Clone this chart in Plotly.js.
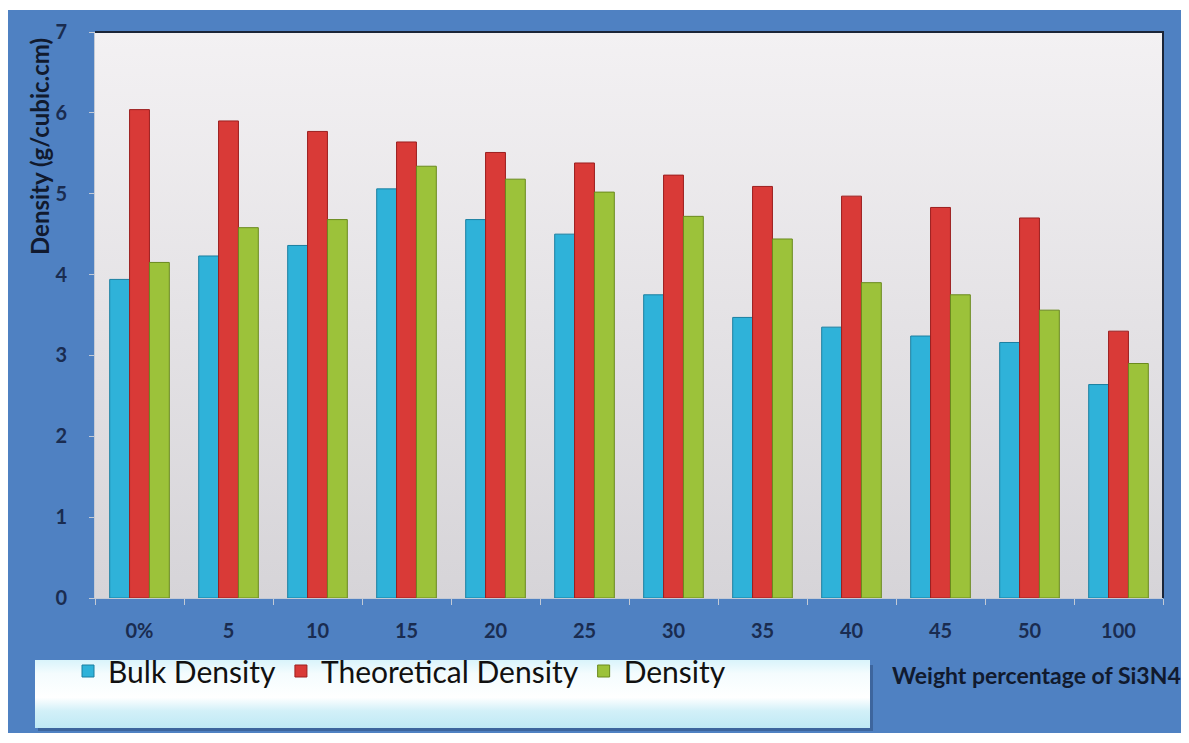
<!DOCTYPE html>
<html><head><meta charset="utf-8">
<script src="https://cdn.plot.ly/plotly-3.0.1.min.js"></script>
<style>html,body{margin:0;padding:0;background:#fff;} #chart{width:1189px;height:743px;}</style>
</head><body><div id="chart"></div>
<script>
const categories = ['0%','5','10','15','20','25','30','35','40','45','50','100'];
const bulkDensity = [3.94,4.23,4.36,5.06,4.68,4.50,3.75,3.47,3.35,3.24,3.16,2.64];
const theoreticalDensity = [6.04,5.90,5.77,5.64,5.51,5.38,5.23,5.09,4.97,4.83,4.70,3.30];
const density = [4.15,4.58,4.68,5.34,5.18,5.02,4.72,4.44,3.90,3.75,3.56,2.90];
const seriesNames = ['Bulk Density','Theoretical Density','Density'];
const yTickValues = [0,1,2,3,4,5,6,7];

const W = 1189, H = 743;
const M = {l:95, r:26, t:32, b:145};
const PW = W - M.l - M.r, PH = H - M.t - M.b;

function px2x(px){ return (px - M.l) / PW; }
function px2y(py){ return (H - M.b - py) / PH; }

// background picture (frame, plot area gradient, legend box)
const cv = document.createElement('canvas');
cv.width = W; cv.height = H;
const ctx = cv.getContext('2d');
ctx.fillStyle = '#ffffff'; ctx.fillRect(0,0,W,H);
ctx.fillStyle = '#4f81c2'; ctx.fillRect(8,10,1173,723);
let g = ctx.createLinearGradient(0, M.t, 0, H - M.b);
g.addColorStop(0, '#f3f1f3'); g.addColorStop(1, '#d6d4d8');
ctx.fillStyle = g; ctx.fillRect(M.l, M.t, PW, PH);
ctx.strokeStyle = '#1b2538'; ctx.lineWidth = 2;
ctx.beginPath(); ctx.moveTo(M.l, M.t); ctx.lineTo(W - M.r, M.t); ctx.lineTo(W - M.r, H - M.b); ctx.stroke();
// legend box
ctx.fillStyle = 'rgba(30,50,90,0.35)'; ctx.fillRect(38,665,835,66);
let lg = ctx.createLinearGradient(0, 660, 0, 728);
lg.addColorStop(0, '#d9f4fb'); lg.addColorStop(0.2, '#f4fcfe'); lg.addColorStop(0.55, '#ffffff');
lg.addColorStop(0.75, '#d2f0f8'); lg.addColorStop(1, '#bfe9f5');
ctx.fillStyle = lg; ctx.fillRect(35,660,835,68);

const bg = cv.toDataURL('image/png');

const colors = ['#2fb2d9', '#d93a37', '#9cc23a'];
const edges = ['#1b7fa0', '#9c1f1f', '#6a8a1e'];
const values = [bulkDensity, theoreticalDensity, density];

const traces = values.map((v, i) => ({
  type: 'bar', x: categories, y: v, name: seriesNames[i],
  marker: {color: colors[i], line: {color: edges[i], width: 1}},
  hoverinfo: 'x+y+name'
}));

const tickFont = {family: 'Lato, "Open Sans", sans-serif', size: 20, color: '#1a2c50', weight: 'bold'};

const layout = {
  width: W, height: H,
  margin: M,
  paper_bgcolor: 'rgba(0,0,0,0)', plot_bgcolor: 'rgba(0,0,0,0)',
  barmode: 'group', bargap: 0.33, bargroupgap: 0,
  showlegend: true,
  legend: {orientation: 'h', x: px2x(68), xanchor: 'left', y: px2y(671), yanchor: 'middle',
           bgcolor: 'rgba(0,0,0,0)', font: {family: 'Lato, "Open Sans", sans-serif', size: 30, color: '#111'},
           traceorder: 'normal'},
  xaxis: {type: 'category', categoryorder: 'array', categoryarray: categories,
          showline: true, linecolor: '#c3cad6', linewidth: 1,
          ticks: 'outside', tickson: 'boundaries', ticklen: 6, tickcolor: '#c3cad6',
          tickfont: tickFont, ticklabelstandoff: 15, showgrid: false, zeroline: false, fixedrange: true},
  yaxis: {range: [0, 7], tickvals: yTickValues, ticktext: yTickValues.map(String),
          showline: true, linecolor: '#c3cad6', linewidth: 1,
          ticks: 'outside', ticklen: 5, tickcolor: '#c3cad6',
          tickfont: tickFont, ticklabelstandoff: 18, showgrid: false, zeroline: false, fixedrange: true},
  images: [{source: bg, xref: 'paper', yref: 'paper', x: -M.l / PW, y: 1 + M.t / PH,
            sizex: W / PW, sizey: H / PH, xanchor: 'left', yanchor: 'top', sizing: 'stretch', layer: 'below'}],
  annotations: [
    {text: '<b>Density (g/cubic.cm)</b>', xref: 'paper', yref: 'paper', x: px2x(39), y: px2y(147),
     xanchor: 'center', yanchor: 'middle', textangle: -90, showarrow: false,
     font: {family: 'Lato, "Open Sans", sans-serif', size: 24, color: '#111a2e'}},
    {text: '<b>Weight percentage of Si3N4</b>', xref: 'paper', yref: 'paper', x: px2x(1036), y: px2y(675),
     xanchor: 'center', yanchor: 'middle', showarrow: false,
     font: {family: 'Lato, "Open Sans", sans-serif', size: 23, color: '#111a2e'}}
  ]
};

Plotly.newPlot('chart', traces, layout, {displayModeBar: false, staticPlot: true});
</script>
</body></html>
